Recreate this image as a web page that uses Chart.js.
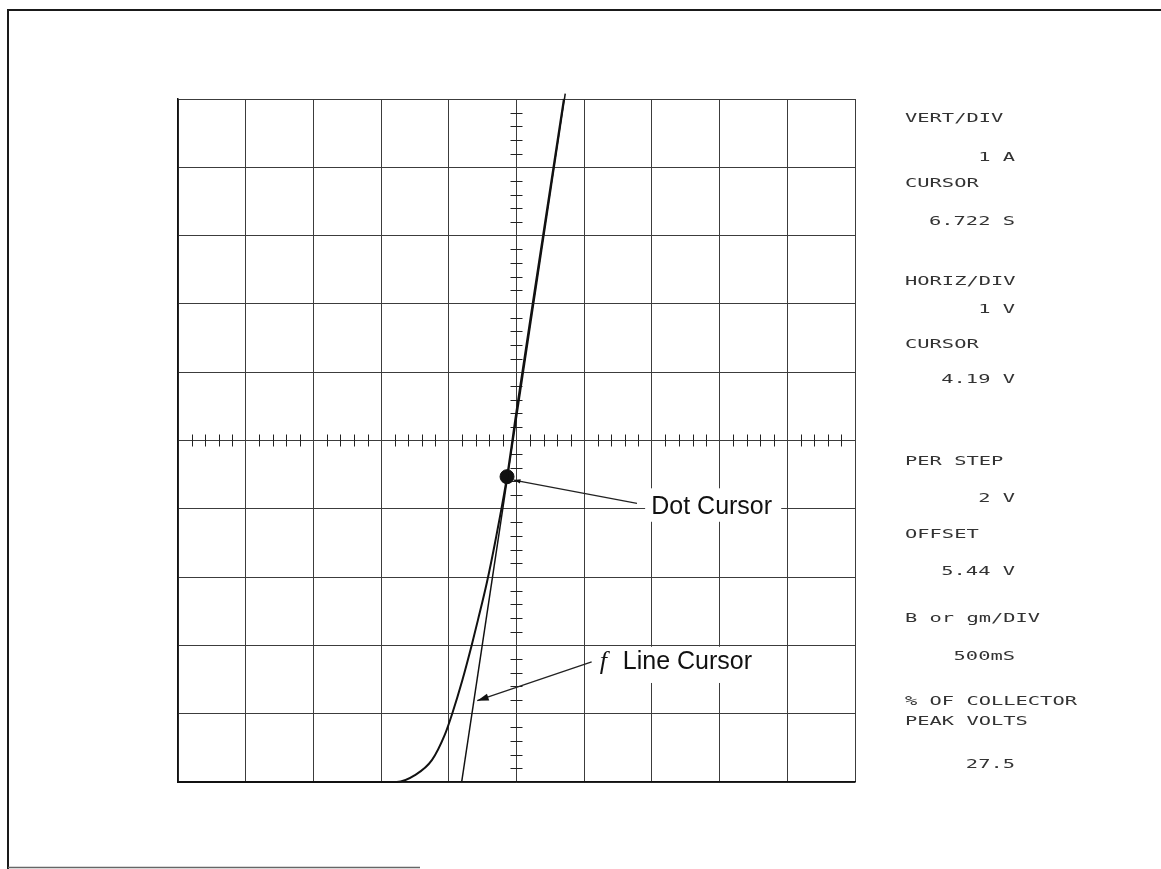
<!DOCTYPE html>
<html lang="en">
<head>
<meta charset="UTF-8">
<title>Curve tracer display – dot cursor and f line cursor</title>
<script src="https://cdn.jsdelivr.net/npm/chart.js@4.4.0/dist/chart.umd.min.js"></script>
<style>
  html, body { margin: 0; padding: 0; background: #fff; }
  #wrap { position: relative; width: 1161px; height: 869px; }
</style>
</head>
<body>
<div id="wrap"><canvas id="trace" width="1161" height="869"></canvas></div>
<script>
// Trace (horizontal: volts, 1 V/div; vertical: amps, 1 A/div)
const curveV = [0, 3.23, 3.50, 3.75, 3.94, 4.05, 4.20, 4.34, 4.43, 4.56, 4.69, 4.86, 5.00, 5.36, 5.70];
const curveA = [0, 0, 0.10, 0.32, 0.69, 1.00, 1.49, 2.01, 2.37, 2.91, 3.54, 4.47, 5.43, 7.79, 10.0];

// f line cursor (tangent through the dot)
const lineCursorV = [4.19, 5.72];
const lineCursorA = [0, 10.08];

// dot cursor
const dotV = [4.86];
const dotA = [4.47];

// readout column
const readoutNames = ['VERT/DIV', 'CURSOR', 'HORIZ/DIV', 'CURSOR', 'PER STEP', 'OFFSET', 'B or gm/DIV', '% OF COLLECTOR\nPEAK VOLTS'];
const readoutValues = ['1 A', '6.722 S', '1 V', '4.19 V', '2 V', '5.44 V', '500mS', '27.5'];

// layout of the readout column (pixels)
const nameBase = [122, 187, 285, 348, 465, 538, 622, 705];
const valueBase = [161, 225, 313, 383, 502, 575, 660, 768];

// callouts, positioned in screen divisions
const notes = [
    { text: 'Dot Cursor', at: [6.99, 3.92], box: [6.90, 4.30, 8.91, 3.81], from: [6.78, 4.08], to: [4.96, 4.42], head: 7 },
    { text: 'Line Cursor', fn: 'f', fAt: [6.23, 1.65], at: [6.57, 1.65], box: [6.16, 1.98, 8.62, 1.45], from: [6.11, 1.76], to: [4.42, 1.19], head: 12 }
];

const toXY = (xs, ys) => xs.map((x, i) => ({ x, y: ys[i] }));

function arrow(c, x1, y1, x2, y2, size) {
    const a = Math.atan2(y2 - y1, x2 - x1);
    c.beginPath();
    c.moveTo(x1, y1);
    c.lineTo(x2, y2);
    c.stroke();
    c.beginPath();
    c.moveTo(x2, y2);
    c.lineTo(x2 - size * Math.cos(a - 0.3), y2 - size * Math.sin(a - 0.3));
    c.lineTo(x2 - size * Math.cos(a + 0.3), y2 - size * Math.sin(a + 0.3));
    c.closePath();
    c.fill();
}

function wideText(c, t, x, y, align) {
    c.save();
    c.translate(x, y);
    c.scale(1.7, 1);
    c.textAlign = align;
    c.fillText(t, 0, 0);
    c.restore();
}

const overlay = {
    id: 'overlay',
    beforeDraw(chart) {
        const c = chart.ctx;
        c.save();
        c.strokeStyle = '#1a1a1a';
        c.lineWidth = 2;
        c.beginPath();
        c.moveTo(8, 869);
        c.lineTo(8, 10);
        c.lineTo(1161, 10);
        c.stroke();
        c.lineWidth = 1.5;
        c.strokeStyle = '#666';
        c.beginPath();
        c.moveTo(8, 867.5);
        c.lineTo(420, 867.5);
        c.stroke();
        c.restore();
    },
    beforeDatasetsDraw(chart) {
        // minor ticks along the two centre graticule lines
        const { ctx: c, scales: { x, y } } = chart;
        const cx = x.getPixelForValue(5), cy = y.getPixelForValue(5);
        c.save();
        c.strokeStyle = '#222';
        c.lineWidth = 1;
        c.beginPath();
        for (let i = 1; i < 50; i++) {
            if (i % 5 === 0) continue;
            const px = Math.round(x.getPixelForValue(i / 5)) + 0.5;
            c.moveTo(px, cy - 6);
            c.lineTo(px, cy + 6);
            const py = Math.round(y.getPixelForValue(i / 5)) + 0.5;
            c.moveTo(cx - 6, py);
            c.lineTo(cx + 6, py);
        }
        c.stroke();
        c.restore();
    },
    afterDatasetsDraw(chart) {
        const { ctx: c, scales: { x, y } } = chart;
        c.save();
        notes.forEach(n => {
            const [bx1, by1, bx2, by2] = n.box;
            c.fillStyle = '#fff';
            c.fillRect(x.getPixelForValue(bx1), y.getPixelForValue(by1),
                x.getPixelForValue(bx2) - x.getPixelForValue(bx1), y.getPixelForValue(by2) - y.getPixelForValue(by1));
            c.fillStyle = '#111';
            c.strokeStyle = '#222';
            c.lineWidth = 1.3;
            arrow(c, x.getPixelForValue(n.from[0]), y.getPixelForValue(n.from[1]),
                x.getPixelForValue(n.to[0]), y.getPixelForValue(n.to[1]), n.head);
            c.textAlign = 'left';
            c.textBaseline = 'alphabetic';
            if (n.fn) {
                c.font = 'italic 26px "Liberation Serif"';
                c.fillText(n.fn, x.getPixelForValue(n.fAt[0]), y.getPixelForValue(n.fAt[1]));
            }
            c.font = '25px "Liberation Sans"';
            c.fillText(n.text, x.getPixelForValue(n.at[0]), y.getPixelForValue(n.at[1]));
        });

        // readout column
        c.fillStyle = '#333';
        c.font = '12px "DejaVu Sans Mono"';
        readoutNames.forEach((name, i) => {
            name.split('\n').forEach((line, k) => wideText(c, line, 905, nameBase[i] + k * 20, 'left'));
            wideText(c, readoutValues[i], 1015, valueBase[i], 'right');
        });
        c.restore();
    }
};

const axis = {
    type: 'linear',
    min: 0,
    max: 10,
    ticks: { display: false, stepSize: 1 },
    grid: { color: '#3c3c3c', lineWidth: 1, drawTicks: false },
    border: { color: '#111', width: 1.5 }
};

new Chart(document.getElementById('trace'), {
    type: 'scatter',
    data: {
        datasets: [
            { data: toXY(curveV, curveA), showLine: true, borderColor: '#111', borderWidth: 2, pointRadius: 0, cubicInterpolationMode: 'monotone', clip: false },
            { data: toXY(lineCursorV, lineCursorA), showLine: true, borderColor: '#111', borderWidth: 1.5, pointRadius: 0, clip: false },
            { data: toXY(dotV, dotA), showLine: false, pointRadius: 7, backgroundColor: '#111', borderColor: '#111' }
        ]
    },
    options: {
        responsive: false,
        animation: false,
        layout: { padding: { left: 178, right: 306, top: 99, bottom: 87 } },
        plugins: { legend: { display: false }, tooltip: { enabled: false } },
        scales: { x: { ...axis }, y: { ...axis } }
    },
    plugins: [overlay]
});
</script>
</body>
</html>
